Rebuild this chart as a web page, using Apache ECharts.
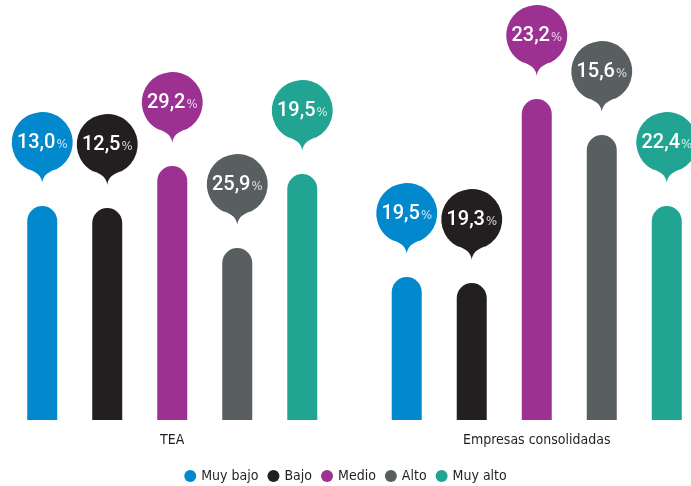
<!DOCTYPE html>
<html>
<head>
<meta charset="utf-8">
<script src="https://cdn.jsdelivr.net/npm/echarts@6/dist/echarts.min.js"></script>
<style>
  html, body { margin: 0; padding: 0; background: #fff; }
  #chart { width: 691px; height: 486px; }
</style>
</head>
<body>
<div id="chart"></div>
<script>
// grupos
const categories = ['TEA', 'Empresas consolidadas'];
const seriesNames = ['Muy bajo', 'Bajo', 'Medio', 'Alto', 'Muy alto'];
const colors = ['#0288cd', '#231f20', '#9c3192', '#595e60', '#22a493'];

// altura de las barras (como se ven en la figura)
const barHeights = [
  [53.5, 35.75],
  [53, 34.25],
  [63.5, 80.25],
  [43, 71.25],
  [61.5, 53.5]
];
// valores en los globos
const labelValues = [
  ['13,0', '19,5'],
  ['12,5', '19,3'],
  ['29,2', '23,2'],
  ['25,9', '15,6'],
  ['19,5', '22,4']
];

const FONT = "'Liberation Sans Narrow', 'DejaVu Sans Condensed', 'Noto Sans', sans-serif";
const bubblePath = 'path://M30.5 71 C31 65 35 60 44.8 57.3 A30.5 30.5 0 1 0 16.2 57.3 C26 60 30 65 30.5 71 Z';

const chart = echarts.init(document.getElementById('chart'));

let series = [];
seriesNames.forEach((name, i) => {
  series.push({
    name: name,
    type: 'bar',
    z: 3,
    barWidth: 30,
    barGap: '116.7%',
    itemStyle: { color: colors[i], borderRadius: [15, 15, 0, 0] },
    data: barHeights[i],
    label: {
      show: true,
      position: 'top',
      distance: 51,
      formatter: (p) => '{n|' + labelValues[i][p.dataIndex] + '}{p|%}',
      rich: {
        n: { color: '#fff', fontSize: 20, fontWeight: 500, fontFamily: 'Roboto', lineHeight: 24 },
        p: { color: 'rgba(255,255,255,0.8)', fontSize: 13, fontFamily: FONT, lineHeight: 24, padding: [4, 0, 0, 1] }
      }
    }
  });
});
seriesNames.forEach((name, i) => {
  series.push({
    name: name,
    type: 'pictorialBar',
    z: 2,
    barWidth: 30,
    barGap: '116.7%',
    symbol: bubblePath,
    symbolSize: [61, 71],
    symbolPosition: 'end',
    symbolOffset: [0, -94],
    itemStyle: { color: colors[i] },
    silent: true,
    data: barHeights[i]
  });
});

let option = {
  animation: false,
  color: colors,
  grid: { left: -10, right: -28, top: 20, bottom: 66, outerBoundsMode: 'none', containLabel: false },
  legend: {
    data: seriesNames,
    top: 464,
    left: 'center',
    icon: 'circle',
    itemWidth: 12,
    itemHeight: 12,
    itemGap: 9,
    textStyle: { color: '#231f20', fontSize: 14, fontFamily: FONT }
  },
  xAxis: {
    type: 'category',
    data: categories,
    axisLine: { show: false },
    axisTick: { show: false },
    axisLabel: { color: '#231f20', fontSize: 14, fontFamily: FONT, margin: 13 }
  },
  yAxis: {
    type: 'value',
    min: 0,
    max: 100,
    show: false
  },
  series: series
};

chart.setOption(option);
</script>
</body>
</html>
